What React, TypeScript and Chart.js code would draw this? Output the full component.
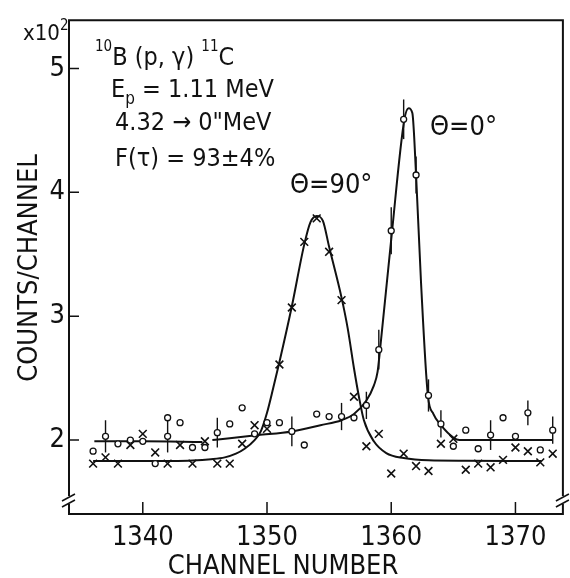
import React, { useEffect, useRef } from "react";
import { Chart, registerables } from "chart.js";

Chart.register(...registerables);

// ---- Data (counts in units of 10^2) ----
// Theta = 0 deg measurements (open circles)
const ch0 = [1336, 1337, 1338, 1339, 1340, 1341, 1342, 1342, 1343, 1344, 1345, 1346, 1347, 1348, 1349, 1350, 1351, 1352, 1353, 1354, 1355, 1356, 1357, 1358, 1359, 1360, 1361, 1362, 1363, 1364, 1365, 1366, 1367, 1368, 1369, 1370, 1371, 1372, 1373];
const counts0 = [1.91, 2.03, 1.97, 2.0, 1.99, 1.81, 2.18, 2.03, 2.14, 1.94, 1.94, 2.06, 2.13, 2.26, 2.05, 2.14, 2.14, 2.07, 1.96, 2.21, 2.19, 2.19, 2.18, 2.28, 2.73, 3.69, 4.59, 4.14, 2.36, 2.13, 1.95, 2.08, 1.93, 2.04, 2.18, 2.03, 2.22, 1.92, 2.08];
const err0 = [0, 0.13, 0, 0, 0, 0, 0, 0.13, 0, 0, 0, 0.12, 0, 0, 0, 0, 0, 0.12, 0, 0, 0, 0.11, 0, 0.11, 0.16, 0.19, 0.16, 0.15, 0.13, 0.11, 0, 0, 0, 0.12, 0, 0, 0.1, 0, 0.11];

// Theta = 90 deg measurements (crosses)
const ch90 = [1336, 1337, 1338, 1339, 1340, 1341, 1342, 1343, 1344, 1345, 1346, 1347, 1348, 1349, 1350, 1351, 1352, 1353, 1354, 1355, 1356, 1357, 1358, 1359, 1360, 1361, 1362, 1363, 1364, 1365, 1366, 1367, 1368, 1369, 1370, 1371, 1372, 1373];
const counts90 = [1.81, 1.86, 1.81, 1.96, 2.05, 1.9, 1.81, 1.96, 1.81, 1.99, 1.81, 1.81, 1.97, 2.12, 2.09, 2.61, 3.07, 3.6, 3.79, 3.52, 3.13, 2.35, 1.95, 2.05, 1.73, 1.89, 1.79, 1.75, 1.97, 2.01, 1.76, 1.81, 1.78, 1.84, 1.94, 1.91, 1.82, 1.89];

// Fitted curves
const curve0X = [1336.1, 1340, 1344.8, 1345.2, 1345.6, 1347, 1349.3, 1352, 1354.3, 1356, 1357, 1358, 1358.6, 1358.9, 1359.1, 1360, 1361.06, 1361.4, 1361.7, 1362, 1362.4, 1362.95, 1363.4, 1364, 1365, 1365.5, 1373];
const curve0Y = [1.99, 1.99, 1.985, null, 2.0, 2.015, 2.04, 2.07, 2.12, 2.16, 2.21, 2.32, 2.44, 2.55, 2.73, 3.62, 4.59, 4.68, 4.64, 4.14, 3.27, 2.36, 2.21, 2.12, 2.02, 2.0, 2.0];
const curve90X = [1336, 1340, 1344, 1345.5, 1346.6, 1347.5, 1348.2, 1349, 1349.5, 1350, 1350.5, 1351, 1352, 1353, 1353.5, 1354, 1354.5, 1355, 1356, 1356.5, 1357, 1357.4, 1357.8, 1358.6, 1359.6, 1361, 1363, 1366, 1372.1];
const curve90Y = [1.83, 1.83, 1.835, 1.845, 1.86, 1.89, 1.93, 2.0, 2.07, 2.22, 2.42, 2.63, 3.08, 3.58, 3.76, 3.81, 3.77, 3.56, 3.15, 2.9, 2.58, 2.35, 2.16, 1.99, 1.895, 1.855, 1.836, 1.833, 1.83];

const xTicks = [1340, 1350, 1360, 1370];
const yTicks = [2, 3, 4, 5];

const FONT = "'Liberation Sans Narrow', 'DejaVu Sans Condensed', 'Liberation Sans', sans-serif";

export default function App() {
  const ref = useRef<HTMLCanvasElement | null>(null);

  useEffect(() => {
    document.body.style.margin = "0";
    const canvas = ref.current!;

    const errorBars = {
      id: "errorBars",
      beforeDatasetsDraw(chart: any) {
        const { ctx, scales } = chart;
        const xs = scales.x, ys = scales.y;
        ctx.save();
        ctx.strokeStyle = "#111";
        ctx.lineWidth = 1.4;
        for (let i = 0; i < ch0.length; i++) {
          if (!err0[i]) continue;
          const px = xs.getPixelForValue(ch0[i]);
          ctx.beginPath();
          ctx.moveTo(px, ys.getPixelForValue(counts0[i] + err0[i]));
          ctx.lineTo(px, ys.getPixelForValue(counts0[i] - err0[i]));
          ctx.stroke();
        }
        ctx.restore();
      },
    };

    const decor = {
      id: "decor",
      afterDraw(chart: any) {
        const { ctx, chartArea, scales } = chart;
        const { left, right, top, bottom } = chartArea;
        const xs = scales.x, ys = scales.y;
        ctx.save();
        ctx.strokeStyle = "#111";
        ctx.fillStyle = "#111";
        ctx.lineWidth = 2;
        ctx.lineCap = "butt";
        const brk = bottom - 14;
        // frame
        ctx.beginPath();
        ctx.moveTo(left, brk - 4);
        ctx.lineTo(left, top);
        ctx.lineTo(right, top);
        ctx.lineTo(right, brk - 4);
        ctx.moveTo(left, brk + 4);
        ctx.lineTo(left, bottom);
        ctx.lineTo(right, bottom);
        ctx.lineTo(right, brk + 4);
        ctx.stroke();
        // break marks
        ctx.lineWidth = 1.5;
        ctx.beginPath();
        for (const bx of [left, right]) {
          ctx.moveTo(bx - 7, brk + 1);
          ctx.lineTo(bx + 6, brk - 6);
          ctx.moveTo(bx - 7, brk + 7);
          ctx.lineTo(bx + 6, brk);
        }
        ctx.stroke();
        // inward ticks
        ctx.lineWidth = 1.5;
        ctx.beginPath();
        for (const t of xTicks) {
          const px = xs.getPixelForValue(t);
          ctx.moveTo(px, bottom);
          ctx.lineTo(px, bottom - 12);
        }
        for (const t of yTicks) {
          const py = ys.getPixelForValue(t);
          ctx.moveTo(left, py);
          ctx.lineTo(left + 10, py);
        }
        ctx.stroke();

        // texts
        ctx.textBaseline = "alphabetic";
        ctx.textAlign = "left";
        const f = (s: number) => `${s}px ${FONT}`;
        const seq = (x: number, parts: [string, number, number][]) => {
          let cx = x;
          for (const [txt, size, dy] of parts) {
            ctx.font = f(size);
            ctx.fillText(txt, cx, dy);
            cx += ctx.measureText(txt).width;
          }
        };
        // x10^2
        seq(23, [["x10", 22, 40], ["2", 15, 30]]);
        // annotation block
        seq(95, [["10", 15, 51], ["B (p, γ) ", 25, 65], ["11", 15, 51], ["C", 25, 65]]);
        seq(111, [["E", 25, 97], ["p", 17, 104], [" = 1.11 MeV", 25, 97]]);
        seq(115, [["4.32 → 0\"MeV", 25, 130]]);
        seq(115, [["F(τ) = 93±4%", 25, 166]]);
        seq(290, [["Θ=90°", 27, 193]]);
        seq(430, [["Θ=0°", 27, 135]]);
        // axis titles
        ctx.font = f(27);
        ctx.textAlign = "center";
        ctx.fillText("CHANNEL NUMBER", 283, 574);
        ctx.save();
        ctx.translate(37, 268);
        ctx.rotate(-Math.PI / 2);
        ctx.fillText("COUNTS/CHANNEL", 0, 0);
        ctx.restore();
        ctx.restore();
      },
    };

    const chart = new Chart(canvas, {
      type: "scatter",
      data: {
        datasets: [
          {
            label: "0deg",
            data: ch0.map((x, i) => ({ x, y: counts0[i] })),
            pointStyle: "circle",
            pointRadius: 3,
            pointBorderWidth: 1.3,
            pointBackgroundColor: "#fff",
            pointBorderColor: "#111",
            showLine: false,
            order: 0,
          },
          {
            label: "90deg",
            data: ch90.map((x, i) => ({ x, y: counts90[i] })),
            pointStyle: "crossRot",
            pointRadius: 5.5,
            pointBorderWidth: 1.6,
            pointBorderColor: "#111",
            showLine: false,
            order: 1,
          },
          {
            label: "fit0",
            data: curve0X.map((x, i) => ({ x, y: curve0Y[i] as any })),
            showLine: true,
            borderColor: "#111",
            borderWidth: 2,
            pointRadius: 0,
            cubicInterpolationMode: "monotone",
            spanGaps: false,
            order: 2,
          },
          {
            label: "fit90",
            data: curve90X.map((x, i) => ({ x, y: curve90Y[i] })),
            showLine: true,
            borderColor: "#111",
            borderWidth: 2,
            pointRadius: 0,
            cubicInterpolationMode: "monotone",
            order: 3,
          },
        ],
      },
      options: {
        animation: false,
        responsive: false,
        devicePixelRatio: 1,
        layout: { padding: { left: 0, right: 2, top: 13, bottom: 0 } },
        plugins: { legend: { display: false }, tooltip: { enabled: false } },
        scales: {
          x: {
            type: "linear",
            min: 1334.06,
            max: 1373.82,
            grid: { display: false, drawTicks: false },
            border: { display: false },
            afterBuildTicks: (s: any) => {
              s.ticks = xTicks.map((v) => ({ value: v }));
            },
            afterFit: (s: any) => {
              s.height = 64;
            },
            ticks: {
              color: "#111",
              font: { family: FONT, size: 27 },
              padding: 8,
              maxRotation: 0,
              callback: (v: any) => String(v),
            },
          },
          y: {
            type: "linear",
            min: 1.403,
            max: 5.39,
            grid: { display: false, drawTicks: false },
            border: { display: false },
            afterBuildTicks: (s: any) => {
              s.ticks = yTicks.map((v) => ({ value: v }));
            },
            afterFit: (s: any) => {
              s.width = 69;
            },
            ticks: {
              color: "#111",
              font: { family: FONT, size: 27 },
              padding: 4,
              callback: (v: any) => String(v),
            },
          },
        },
      },
      plugins: [errorBars, decor],
    });
    return () => chart.destroy();
  }, []);

  return (
    <div style={{ width: 570, height: 578, background: "#fff" }}>
      <canvas ref={ref} width={570} height={578} style={{ display: "block" }} />
    </div>
  );
}
